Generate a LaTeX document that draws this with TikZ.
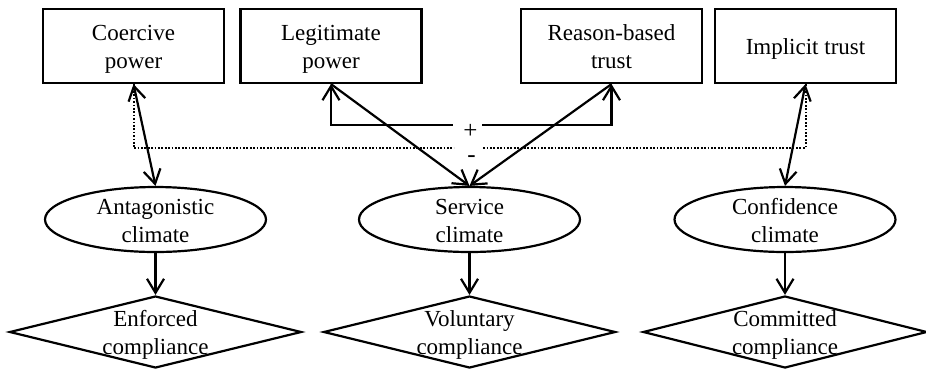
\documentclass[tikz,border=0pt]{standalone}
\usepackage{fontspec}
\setmainfont{Liberation Serif}
\usetikzlibrary{shapes.geometric,arrows.meta}
\begin{document}
\begin{tikzpicture}[x=1pt,y=-1pt,
  txt/.style={font=\fontsize{23}{28}\selectfont, align=center, inner sep=0pt, yshift=-3pt},
  sgn/.style={font=\fontsize{25}{28}\selectfont, inner sep=0pt, anchor=base},
  box/.style={draw, line width=2.2pt, rectangle, minimum width=181pt, minimum height=74pt, inner sep=0pt},
  ell/.style={draw, line width=2.2pt, ellipse, minimum width=221pt, minimum height=65pt, inner sep=0pt},
  dia/.style={draw, line width=2.2pt, diamond, minimum width=292pt, minimum height=72pt, inner sep=0pt},
  tip/.tip={Straight Barb[length=14pt,width=17pt,line width=2.2pt]},
  arr/.style={line width=2.2pt},
  dots/.style={line width=2pt, dash pattern=on 1.7pt off 1.7pt},
  gap/.style={inner sep=0pt, minimum width=29pt, minimum height=8pt}
]
\useasboundingbox (0,0) rectangle (926,368);
\fill[white] (0,0) rectangle (926,368);

% top boxes
\node[box, label={[txt]center:{Coercive\strut\\power\strut}}] (c1) at (133.5,46) {};
\node[box, label={[txt]center:{Legitimate\strut\\power\strut}}] (c2) at (331,46) {};
\node[box, label={[txt]center:{Reason-based\strut\\trust\strut}}] (c3) at (611.5,46) {};
\node[box, label={[txt]center:{Implicit trust\strut}}] (c4) at (805.5,46) {};

% ellipses
\node[ell, label={[txt]center:{Antagonistic\strut\\climate\strut}}] (e1) at (155.5,219.5) {};
\node[ell, label={[txt]center:{Service\strut\\climate\strut}}] (e2) at (469.5,219.5) {};
\node[ell, label={[txt]center:{Confidence\strut\\climate\strut}}] (e3) at (785,219.5) {};

% diamonds
\node[dia, label={[txt]center:{Enforced\strut\\compliance\strut}}] (d1) at (155.5,332) {};
\node[dia, label={[txt]center:{Voluntary\strut\\compliance\strut}}] (d2) at (469.5,332) {};
\node[dia, minimum width=284pt, label={[txt]center:{Committed\strut\\compliance\strut}}] (d3) at (785,332) {};

% sign labels (gaps in the link lines)
\node[gap, label={[sgn, yshift=-6.5pt, xshift=3pt]center:+}] (plus) at (467.5,125) {};
\node[gap, label={[sgn, yshift=-11.5pt, xshift=3pt]center:-}] (minus) at (468.5,148) {};

% dotted (negative) link
\draw[dots] (c1.south) |- (minus.west);
\draw[dots] (minus.east) -| (c4.south);

% solid (positive) link
\draw[arr, {tip}-] (c2.south) |- (plus.west);
\draw[arr, -{tip}] (plus.east) -| (c3.south);

% power/trust to climates
\draw[arr, {tip}-{tip}] (c1.south) -- (e1.north);
\draw[arr, -{tip}] (c2.south) -- (e2.north);
\draw[arr, -{tip}] (c3.south) -- (e2.north);
\draw[arr, {tip}-{tip}] (c4.south) -- (e3.north);

% climates to compliance
\draw[arr, -{tip}] (e1.south) -- (d1.north);
\draw[arr, -{tip}] (e2.south) -- (d2.north);
\draw[arr, -{tip}] (e3.south) -- (d3.north);
\end{tikzpicture}
\end{document}
